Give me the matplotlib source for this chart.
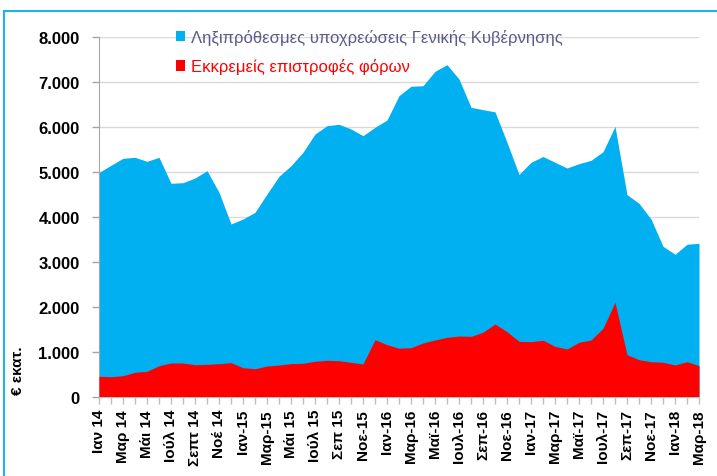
import matplotlib
matplotlib.use("Agg")
import matplotlib.pyplot as plt
from matplotlib.patches import Patch
from matplotlib.lines import Line2D
import numpy as np

# Monthly data Jan 2014 - Mar 2018 (million EUR)
arrears_total = [4990, 5150, 5305, 5327, 5238, 5327, 4748, 4762, 4866, 5029,
                 4548, 3842, 3953, 4102, 4510, 4904, 5140, 5440, 5846, 6031,
                 6062, 5958, 5809, 5996, 6158, 6700, 6909, 6922, 7243, 7390,
                 7071, 6441, 6388, 6340, 5661, 4945, 5216, 5345, 5216, 5089,
                 5186, 5260, 5452, 6015, 4495, 4303, 3953, 3345, 3167, 3390,
                 3412]
tax_refunds = [450, 441, 463, 539, 561, 686, 746, 746, 708, 716,
               731, 753, 641, 619, 679, 701, 731, 739, 784, 806,
               797, 761, 724, 1265, 1154, 1075, 1087, 1192, 1258, 1318,
               1347, 1340, 1430, 1615, 1443, 1229, 1221, 1252, 1118, 1058,
               1207, 1258, 1519, 2098, 931, 820, 775, 762, 702, 775,
               686]
tick_labels = ["Ιαν 14", "Μαρ 14", "Μάι 14", "Ιούλ 14", "Σεπτ 14", "Νοέ 14",
               "Ιαν-15", "Μαρ-15", "Μάι 15", "Ιούλ 15", "Σεπ 15", "Νοε-15",
               "Ιαν-16", "Μαρ-16", "Μαϊ-16", "Ιουλ-16", "Σεπ-16", "Νοε-16",
               "Ιαν-17", "Μαρ-17", "Μαϊ-17", "Ιουλ-17", "Σεπ-17", "Νοε-17",
               "Ιαν-18", "Μαρ-18"]
series_names = ["Ληξιπρόθεσμες υποχρεώσεις Γενικής Κυβέρνησης",
                "Εκκρεμείς επιστροφές φόρων"]
y_ticks = [0, 1000, 2000, 3000, 4000, 5000, 6000, 7000, 8000]

BLUE = "#00B0F0"
RED = "#FF0000"

plt.rcParams['font.family'] = ['Liberation Sans', 'DejaVu Sans']

W, H = 717, 477
fig = plt.figure(figsize=(W / 100, H / 100), dpi=100)
ax = fig.add_axes([99 / W, 1 - 397.5 / H, 600 / W, (397.5 - 38.3) / H])

x = np.arange(len(arrears_total))
ax.fill_between(x, 0, arrears_total, color=BLUE, linewidth=0, zorder=2)
ax.fill_between(x, 0, tax_refunds, color=RED, linewidth=0, zorder=3)

ax.set_xlim(0, len(x) - 1)
ax.set_ylim(0, 8000)

ax.set_yticks(y_ticks)
ax.set_yticklabels([f"{v:,}".replace(",", ".") for v in y_ticks],
                   fontsize=12, fontweight='bold')
ax.set_xticks(x[::2])
ax.set_xticklabels(tick_labels, rotation=90, fontsize=11, fontweight='bold')
ax.set_xticks(x, minor=True)

ax.grid(axis='y', color='#D9D9D9', linewidth=1, zorder=1)
ax.set_axisbelow(True)
ax.tick_params(axis='y', length=5, width=1, color='#A6A6A6', pad=9)
ax.tick_params(axis='x', which='both', length=5, width=1, color='#BFBFBF',
               pad=4, direction='out')
for s in ['top', 'right']:
    ax.spines[s].set_visible(False)
ax.spines['left'].set_color('#A6A6A6')
ax.spines['bottom'].set_color('#BFBFBF')

handles = [Patch(facecolor=BLUE, edgecolor='none'),
           Patch(facecolor=RED, edgecolor='none')]
leg = ax.legend(handles, series_names, loc='upper left',
                bbox_to_anchor=(176 / W, 1 - 30 / H),
                bbox_transform=fig.transFigure, frameon=False,
                fontsize=12, handlelength=0.55, handleheight=0.55,
                handletextpad=0.35, labelspacing=0.8, borderpad=0,
                borderaxespad=0)
leg.get_texts()[0].set_color('#5A5A8C')
leg.get_texts()[1].set_color(RED)

fig.text(18 / W, 1 - 371 / H, "€ εκατ.", rotation=90, fontsize=11,
         fontweight='bold', ha='center', va='center')

# frame lines (top and left) like the reference
fig.add_artist(Line2D([3.5 / W, 1.0], [1 - 12 / H, 1 - 12 / H],
                      transform=fig.transFigure, color='#1FB4E8', linewidth=1.5))
fig.add_artist(Line2D([3.5 / W, 3.5 / W], [0, 1 - 12 / H],
                      transform=fig.transFigure, color='#1FB4E8', linewidth=1.5))

fig.savefig("out.png", dpi=100)
